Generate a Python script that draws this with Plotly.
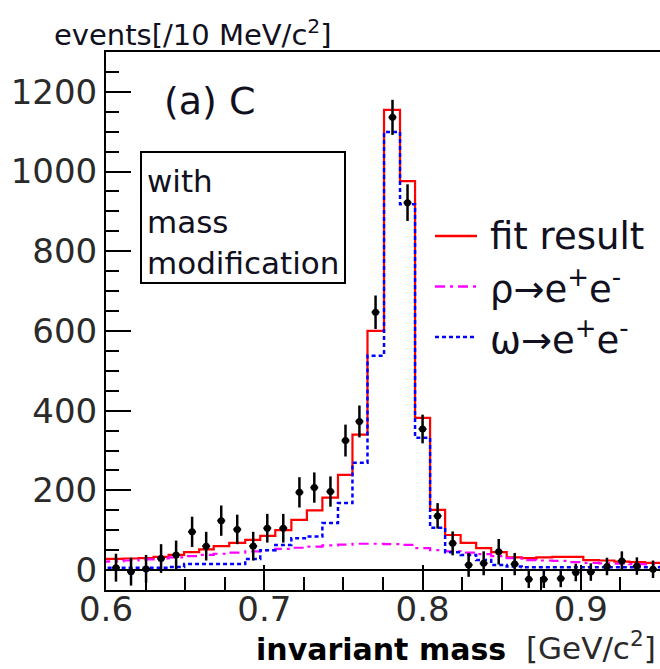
import plotly.graph_objects as go

# ---- data ----
mass = [0.6063, 0.6158, 0.6253, 0.6348, 0.6443, 0.6544, 0.6633, 0.6728, 0.6829, 0.6930,
        0.7019, 0.7120, 0.7222, 0.7316, 0.7418, 0.7513, 0.7601, 0.7703, 0.7810, 0.7905,
        0.8000, 0.8095, 0.8190, 0.8291, 0.8386, 0.8481, 0.8582, 0.8671, 0.8766, 0.8873,
        0.8968, 0.9063, 0.9165, 0.9259, 0.9354, 0.9456]
data_counts = [6, -4, 3, 29, 38, 96, 60, 124, 102, 60,
               105, 105, 195, 207, 197, 325, 373, 647, 1136, 922,
               354, 136, 67, 13, 17, 46, 15, -23, -23, -21,
               -6, -5, 9, 23, 10, 2]
data_err = [35, 35, 35, 36, 36, 38, 36, 38, 37, 36,
            36, 36, 38, 38, 38, 40, 40, 42, 44, 46,
            36, 32, 30, 30, 30, 32, 28, 22, 22, 22,
            22, 22, 22, 24, 22, 22]

hist_mass = [0.5966] + mass + [0.9553]
fit_total = [28, 28, 29, 30, 33, 38, 45, 52, 60, 68, 76,
             86, 100, 126, 150, 182, 239, 340, 600, 1155, 976,
             382, 151, 88, 68, 55, 45, 32, 30, 32, 33,
             33, 25, 24, 21, 20, 18, 18]
rho_comp = [21, 22, 24, 27, 29, 32, 35, 38, 41, 44, 47,
            50, 53, 56, 59, 62, 64, 66, 66, 65, 63,
            55, 50, 47, 44, 40, 35, 30, 25, 24, 23,
            20, 18, 17, 16, 15, 14, 13]
omega_comp = [6, 6, 6, 6, 6, 8, 15, 15, 15, 15, 28,
              50, 63, 80, 84, 118, 168, 269, 538, 1099, 918,
              332, 106, 45, 38, 25, 13, 9, 7, 7, 7,
              7, 7, 7, 7, 7, 7, 7]

legend_labels = ["fit result", "ρ→e<sup>+</sup>e<sup>-</sup>", "ω→e<sup>+</sup>e<sup>-</sup>"]
x_range = [0.6, 0.95]
y_range = [-50, 1300]

FONT = "DejaVu Sans, sans-serif"
TXT = "#101020"

fig = go.Figure()
fig.add_trace(go.Scatter(x=hist_mass, y=fit_total, mode="lines", line_shape="hvh",
                         line=dict(color="#ff0000", width=2.2), showlegend=False))
fig.add_trace(go.Scatter(x=hist_mass, y=rho_comp, mode="lines", line_shape="hvh",
                         line=dict(color="#ff00ff", width=2.2, dash="10px,5px,3px,5px"),
                         showlegend=False))
fig.add_trace(go.Scatter(x=hist_mass, y=omega_comp, mode="lines", line_shape="hvh",
                         line=dict(color="#0000ff", width=2.5, dash="4px,3px"),
                         showlegend=False))
fig.add_trace(go.Scatter(x=mass, y=data_counts, mode="markers",
                         marker=dict(color="black", size=7, symbol="circle"),
                         error_y=dict(type="data", array=data_err, visible=True,
                                      color="black", thickness=2.5, width=0),
                         error_x=dict(type="constant", value=0.0025, visible=True,
                                      color="black", thickness=2, width=0),
                         showlegend=False))

axis_common = dict(showline=True, linewidth=2, linecolor="black",
                   showgrid=False, ticks="inside", tickcolor="black", tickwidth=2,
                   ticklen=25,
                   tickfont=dict(family=FONT, size=34, color="#2a2a2a"))
fig.update_xaxes(range=x_range, dtick=0.1, tick0=0.6, tickformat=".1f", mirror=True,
                 ticklabelstandoff=-12,
                 minor=dict(dtick=0.025, ticks="inside", ticklen=13, tickwidth=2,
                            tickcolor="black", showgrid=False),
                 zeroline=False, **axis_common)
fig.update_yaxes(range=y_range, dtick=200, tick0=0, mirror=False,
                 minor=dict(dtick=50, ticks="inside", ticklen=13, tickwidth=2,
                            tickcolor="black", showgrid=False),
                 zeroline=True, zerolinecolor="black", zerolinewidth=2,
                 **axis_common)

L, R, T, B = 106, 0, 52, 79
W, H = 660, 669
pw, ph = W - L - R, H - T - B

def px(xp):
    return (xp - L) / pw

def py(yp):
    return (H - B - yp) / ph

ann = []
ann.append(dict(x=px(52), y=py(33), text="events[/10 MeV/c<sup>2</sup>]",
                xanchor="left", yanchor="middle", font=dict(size=29, color=TXT)))
ann.append(dict(x=px(162), y=py(101), text="(a) C", xanchor="left", yanchor="middle",
                font=dict(size=38, color=TXT)))
for i, t in enumerate(["with", "mass", "modification"]):
    ann.append(dict(x=px(145), y=py(181 + 41 * i), text=t, xanchor="left",
                    yanchor="middle", font=dict(size=31, color=TXT)))
for i, t in enumerate(legend_labels):
    ann.append(dict(x=px(488), y=py(236 + 50.5 * i), text=t, xanchor="left",
                    yanchor="middle", font=dict(size=37, color=TXT)))
ann.append(dict(x=px(254), y=py(649), text="<b>invariant mass</b>", xanchor="left",
                yanchor="middle", font=dict(size=30, color="black")))
ann.append(dict(x=px(524), y=py(646), text="[GeV/c<sup>2</sup>]", xanchor="left",
                yanchor="middle", font=dict(size=31, color="#2a2a2a")))
for a in ann:
    a.update(xref="paper", yref="paper", showarrow=False)
    a["font"]["family"] = FONT

shapes = [dict(type="rect", xref="paper", yref="paper", x0=px(141), x1=px(345),
               y0=py(152), y1=py(283), line=dict(color="black", width=2))]
leg_styles = [dict(color="#ff0000", width=2.5),
              dict(color="#ff00ff", width=2.5, dash="10px,5px,3px,5px"),
              dict(color="#0000ff", width=2.5, dash="4px,3px")]
for i, st in enumerate(leg_styles):
    yy = py(236 + 50.5 * i)
    shapes.append(dict(type="line", xref="paper", yref="paper", x0=px(435), x1=px(477),
                       y0=yy, y1=yy, line=st))

fig.update_layout(width=W, height=H, margin=dict(l=L, r=R, t=T, b=B),
                  paper_bgcolor="white", plot_bgcolor="white",
                  annotations=ann, shapes=shapes, font=dict(family=FONT))
fig.write_html("out.html")
